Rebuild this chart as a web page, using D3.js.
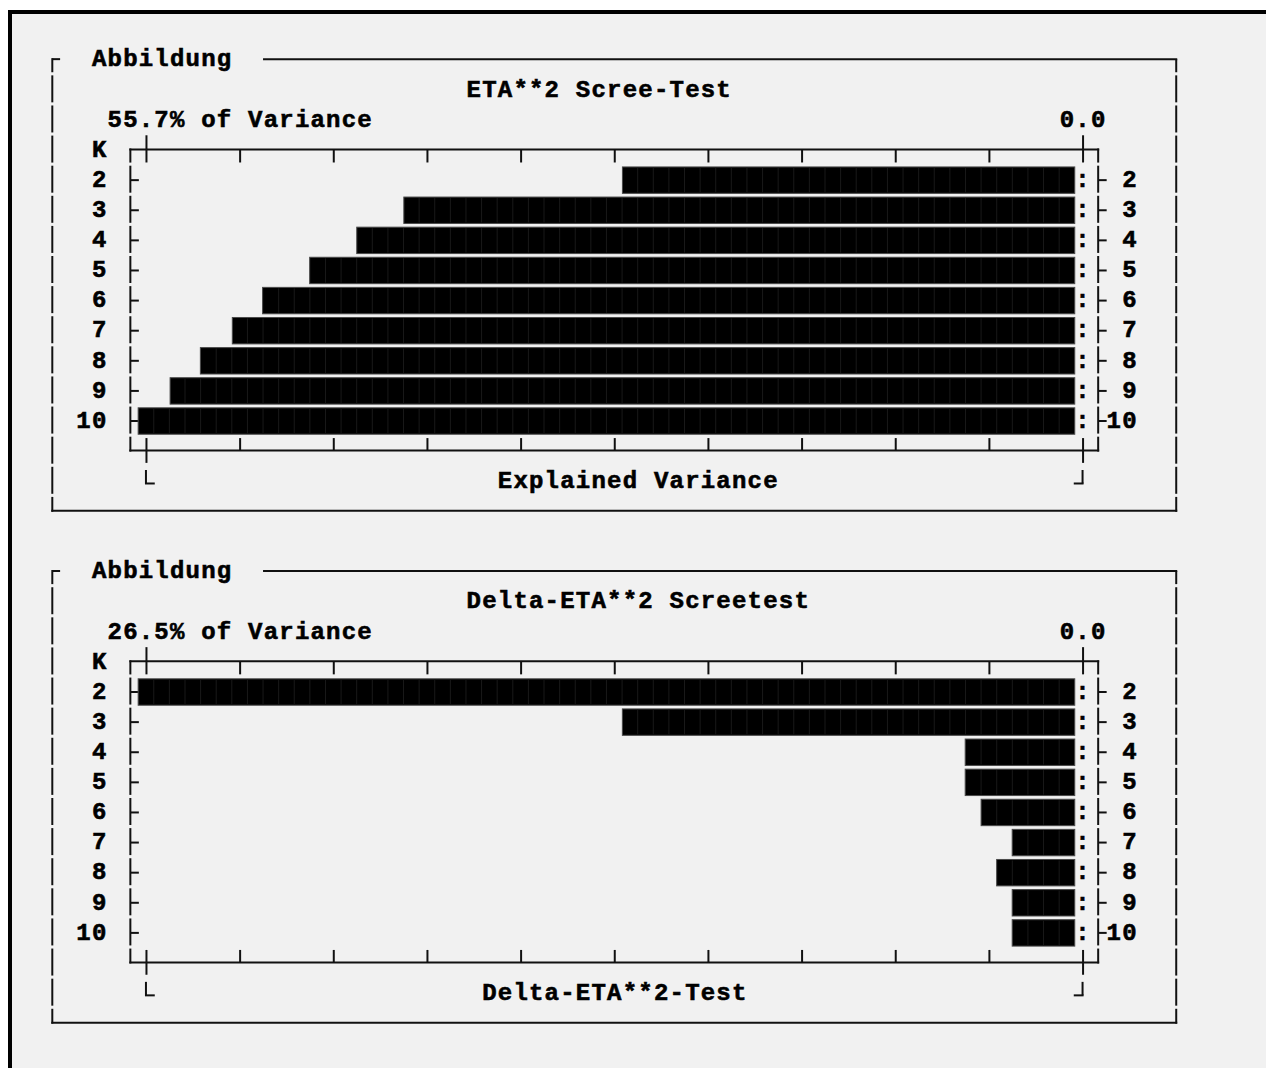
<!DOCTYPE html>
<html>
<head>
<meta charset="utf-8">
<script src="https://cdn.jsdelivr.net/npm/d3@7"></script>
<style>
  html, body { margin: 0; padding: 0; background: #ffffff; overflow: hidden; }
  svg { display: block; }
</style>
</head>
<body>
<svg id="chart" width="1266" height="1068"></svg>
<script>
// Number of clusters K and the two scree series (percent of variance)
const clusters = [2, 3, 4, 5, 6, 7, 8, 9, 10];
const etaSquared = [26.9, 39.9, 42.7, 45.5, 48.3, 50.1, 52.0, 53.8, 55.7];
const deltaEtaSquared = [26.5, 12.8, 3.1, 3.1, 2.65, 1.77, 2.21, 1.77, 1.77];

// Texts
const boxLabel = "Abbildung";
const panelTitles = ["ETA**2 Scree-Test", "Delta-ETA**2 Screetest"];
const axisTitles = ["Explained Variance", "Delta-ETA**2-Test"];
const maxValues = [55.7, 26.5];
const maxLabels = ["55.7% of Variance", "26.5% of Variance"];
const zeroLabel = "0.0";
const rowHeader = "K";

// Character-cell grid of the text-mode layout
const CW = 15.61, X0 = 52.3, RH = 30.11, Y0 = 44.95;
const cx = c => X0 + c * CW;          // cell centre
const cl = c => cx(c) - CW / 2;       // cell left edge
const cr = c => cx(c) + CW / 2;       // cell right edge
const rt = r => Y0 + r * RH;          // row top
const hy = r => rt(r) + 14.2;         // horizontal stroke position in a row
const base = r => rt(r) + 21.5;       // text baseline in a row

const INK = "#111";
const FONT = "'Liberation Mono', 'DejaVu Sans Mono', monospace";
const FS = 24;
const LS = CW - FS * 0.6;
const XOFF = LS / 2;

const svg = d3.select("#chart");

// page and outer frame
svg.append("rect").attr("x", 0).attr("y", 0).attr("width", 1266).attr("height", 1068).attr("fill", "#ffffff");
svg.append("rect").attr("x", 10).attr("y", 12).attr("width", 2000).attr("height", 2000)
  .attr("fill", "#f1f1f1").attr("stroke", "#000").attr("stroke-width", 4);

function styleText(sel) {
  return sel
    .attr("font-family", FONT)
    .attr("font-weight", "bold")
    .attr("font-size", FS)
    .attr("letter-spacing", LS)
    .attr("fill", "#000")
    .attr("stroke", "#000")
    .attr("stroke-width", 0.6)
    .attr("paint-order", "stroke");
}

function putText(g, col, row, str) {
  return styleText(g.append("text")
    .attr("x", cl(col) + XOFF)
    .attr("y", base(row))
    .attr("xml:space", "preserve")
    .text(str));
}

function line(g, x1, y1, x2, y2) {
  g.append("line").attr("x1", x1).attr("y1", y1).attr("x2", x2).attr("y2", y2)
    .attr("stroke", INK).attr("stroke-width", 2);
}

function vSeg(g, col, row) {
  line(g, cx(col), rt(row) + 0.3, cx(col), rt(row) + 27.3);
}

function drawPanel(p, values, maxValue) {
  const r0 = 17 * p;
  const g = svg.append("g");

  // surrounding box
  line(g, cx(0), hy(r0), cr(0), hy(r0));
  line(g, cx(0), hy(r0) - 1, cx(0), rt(r0) + 27.3);
  line(g, cl(14), hy(r0), cx(72) + 1, hy(r0));
  line(g, cx(72), hy(r0), cx(72), rt(r0) + 27.3);
  for (let r = r0 + 1; r <= r0 + 14; r++) { vSeg(g, 0, r); vSeg(g, 72, r); }
  line(g, cx(0), rt(r0 + 15) + 0.3, cx(0), hy(r0 + 15) + 1);
  line(g, cx(72), rt(r0 + 15) + 0.3, cx(72), hy(r0 + 15) + 1);
  line(g, cx(0) - 1, hy(r0 + 15), cx(72) + 1, hy(r0 + 15));

  putText(g, 3, r0, boxLabel);
  putText(g, 27, r0 + 1, panelTitles[p]);
  putText(g, 4, r0 + 2, maxLabels[p]);
  putText(g, 65, r0 + 2, zeroLabel);
  putText(g, 3, r0 + 3, rowHeader);
  putText(g, p === 0 ? 29 : 28, r0 + 14, axisTitles[p]);

  // scales
  const x = d3.scaleLinear().domain([maxValue, 0]).range([cl(6), cr(65)]);
  const tickX = x.copy().range([cx(6), cx(66)]);
  const y = d3.scaleBand().domain(clusters)
    .range([rt(r0 + 4) - 0.3, rt(r0 + 13) - 0.3])
    .paddingInner(0.123).paddingOuter(0.0615);
  const tickValues = d3.range(11).map(i => maxValue * i / 10);

  // frame lines of the plot area
  line(g, cx(5) - 1, hy(r0 + 3), cx(67) + 1, hy(r0 + 3));
  line(g, cx(5) - 1, hy(r0 + 13), cx(67) + 1, hy(r0 + 13));
  [5, 67].forEach(c => {
    line(g, cx(c), hy(r0 + 3) - 1, cx(c), rt(r0 + 3) + 27.3);
    for (let r = r0 + 4; r <= r0 + 12; r++) vSeg(g, c, r);
    line(g, cx(c), rt(r0 + 13) + 0.3, cx(c), hy(r0 + 13) + 1);
  });

  // top tick row
  const topAxis = g.append("g").attr("transform", `translate(0,${hy(r0 + 3)})`)
    .call(d3.axisBottom(tickX).tickValues(tickValues).tickFormat("").tickSizeInner(13).tickSizeOuter(0));
  topAxis.select(".domain").remove();
  topAxis.selectAll(".tick line").attr("stroke", INK).attr("stroke-width", 2)
    .attr("y1", d => (d === 0 || d === maxValue) ? -(hy(r0 + 3) - rt(r0 + 3)) : 0);

  // bottom tick row
  const botAxis = g.append("g").attr("transform", `translate(0,${hy(r0 + 13)})`)
    .call(d3.axisTop(tickX).tickValues(tickValues).tickFormat("").tickSizeInner(12.5).tickSizeOuter(0));
  botAxis.select(".domain").remove();
  botAxis.selectAll(".tick line").attr("stroke", INK).attr("stroke-width", 2)
    .attr("y1", d => (d === 0 || d === maxValue) ? 12.3 : 0);

  // corner marks under the scale ends
  const cy0 = rt(r0 + 14);
  line(g, cx(6), cy0 + 3.5, cx(6), cy0 + 17);
  line(g, cx(6) - 1, cy0 + 17, cr(6) + 1, cy0 + 17);
  line(g, cx(66), cy0 + 3.5, cx(66), cy0 + 17);
  line(g, cl(66) - 1, cy0 + 17, cx(66) + 1, cy0 + 17);

  // row labels left
  const leftAxis = g.append("g").attr("transform", `translate(${cx(5)},0)`)
    .call(d3.axisLeft(y).tickSizeInner(-8.5).tickSizeOuter(0));
  leftAxis.select(".domain").remove();
  leftAxis.selectAll(".tick line").attr("stroke", INK).attr("stroke-width", 2);
  styleText(leftAxis.selectAll(".tick text"))
    .attr("text-anchor", "start")
    .attr("dy", null)
    .attr("x", d => cl(4 - String(d).length) + XOFF - cx(5))
    .attr("y", d => base(r0 + 4 + clusters.indexOf(d)) - (y(d) + y.bandwidth() / 2));

  // row labels right
  const rightAxis = g.append("g").attr("transform", `translate(${cx(67)},0)`)
    .call(d3.axisRight(y).tickSizeInner(8.5).tickSizeOuter(0));
  rightAxis.select(".domain").remove();
  rightAxis.selectAll(".tick line").attr("stroke", INK).attr("stroke-width", 2);
  styleText(rightAxis.selectAll(".tick text"))
    .attr("text-anchor", "start")
    .attr("dy", null)
    .attr("x", d => cl(70 - String(d).length) + XOFF - cx(67))
    .attr("y", d => base(r0 + 4 + clusters.indexOf(d)) - (y(d) + y.bandwidth() / 2));

  // bars built from block cells
  const rows = clusters.map((k, i) => ({ k, v: values[i] }));
  const bars = g.append("g").selectAll("g").data(rows).join("g");
  bars.append("rect")
    .attr("x", d => x(d.v))
    .attr("y", d => y(d.k))
    .attr("width", d => x(0) - x(d.v))
    .attr("height", y.bandwidth())
    .attr("fill", "#000")
    .attr("stroke", "#4a4a4a")
    .attr("stroke-width", 1);
  bars.each(function (d) {
    const n = Math.round((x(0) - x(d.v)) / CW);
    d3.select(this).selectAll("line").data(d3.range(1, n)).join("line")
      .attr("x1", i => x(0) - i * CW).attr("x2", i => x(0) - i * CW)
      .attr("y1", y(d.k) + 1).attr("y2", y(d.k) + y.bandwidth() - 1)
      .attr("stroke", "#191919").attr("stroke-width", 1);
  });
  bars.each(function (d, i) { putText(d3.select(this), 66, r0 + 4 + i, ":"); });
}

drawPanel(0, etaSquared, maxValues[0]);
drawPanel(1, deltaEtaSquared, maxValues[1]);
</script>
</body>
</html>
